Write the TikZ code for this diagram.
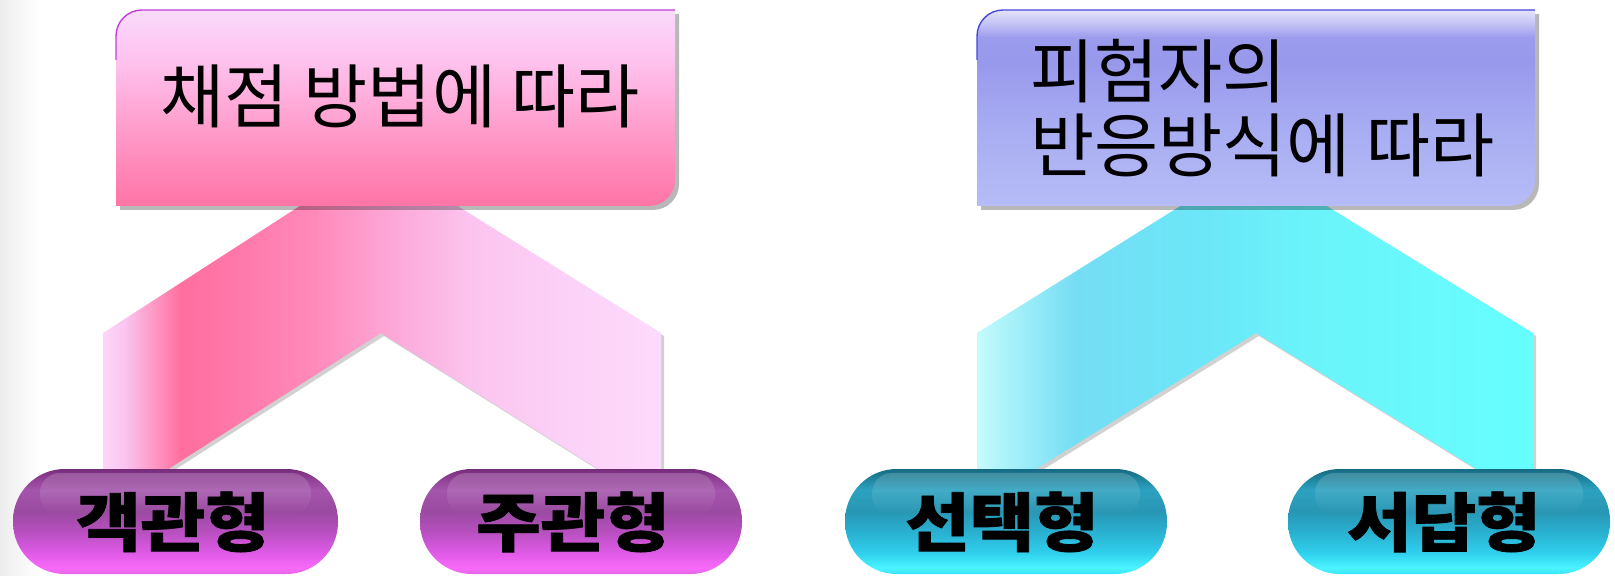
\documentclass[tikz,border=0pt]{standalone}
\usepackage{fontspec}
\newfontfamily\kr{Noto Sans CJK KR}
\newfontfamily\krpill{Noto Sans CJK KR}[FakeStretch=1.1, BoldFeatures={FakeStretch=1.1, FakeBold=1.2}]
\usetikzlibrary{fadings}

% box colours
\definecolor{pbA}{HTML}{FF74A6}
\definecolor{pbB}{HTML}{FF88B8}
\definecolor{pbC}{HTML}{FFA8D6}
\definecolor{pbD}{HTML}{FEC2EE}
\definecolor{pbE}{HTML}{FCD0F8}
\definecolor{pbF}{HTML}{F8DCFA}
\definecolor{bbA}{HTML}{B6BCF6}
\definecolor{bbB}{HTML}{A8ACF2}
\definecolor{bbC}{HTML}{9898EC}
\definecolor{bbD}{HTML}{9C9CEE}
\definecolor{bbE}{HTML}{C8C8F6}
\definecolor{bbF}{HTML}{E2E2FA}
% chevron colours
\definecolor{pcA}{HTML}{FCD6FA}
\definecolor{pcB}{HTML}{FBC4EE}
\definecolor{pcC}{HTML}{FF6E9E}
\definecolor{pcD}{HTML}{FF78AA}
\definecolor{pcE}{HTML}{FF8ABA}
\definecolor{pcF}{HTML}{FCA8D8}
\definecolor{pcG}{HTML}{FBC4EE}
\definecolor{pcH}{HTML}{FCD2F8}
\definecolor{pcI}{HTML}{FDDAFC}
\definecolor{ccA}{HTML}{C8FCFC}
\definecolor{ccB}{HTML}{B0F4FA}
\definecolor{ccC}{HTML}{74DDF4}
\definecolor{ccD}{HTML}{6CE6F8}
\definecolor{ccE}{HTML}{6AF4FA}
\definecolor{ccF}{HTML}{66FEFF}
% pill colours
\definecolor{ppA}{HTML}{E466E8}
\definecolor{ppB}{HTML}{F86AF8}
\definecolor{ppC}{HTML}{E05AE8}
\definecolor{ppD}{HTML}{B850C0}
\definecolor{ppE}{HTML}{9A4AA0}
\definecolor{ppF}{HTML}{A456AC}
\definecolor{ppG}{HTML}{8A3A8E}
\definecolor{ppH}{HTML}{742C7A}
\definecolor{tpA}{HTML}{3AE4F8}
\definecolor{tpB}{HTML}{4AF4FF}
\definecolor{tpC}{HTML}{30D0EE}
\definecolor{tpD}{HTML}{2AB0D0}
\definecolor{tpE}{HTML}{2896B4}
\definecolor{tpF}{HTML}{2CA2C0}
\definecolor{tpG}{HTML}{1C7C94}
\definecolor{tpH}{HTML}{166A82}
\definecolor{pinkedge}{HTML}{C040D8}
\definecolor{blueedge}{HTML}{4848D8}

\pgfdeclareverticalshading{pinkbox}{100bp}{color(0bp)=(pbA); color(25bp)=(pbA); color(35bp)=(pbB); color(50bp)=(pbC); color(62bp)=(pbD); color(70bp)=(pbE); color(75bp)=(pbF); color(100bp)=(pbF)}
\pgfdeclareverticalshading{bluebox}{100bp}{color(0bp)=(bbA); color(25bp)=(bbA); color(45bp)=(bbB); color(62bp)=(bbC); color(68bp)=(bbD); color(72bp)=(bbE); color(75bp)=(bbF); color(100bp)=(bbF)}
\pgfdeclarehorizontalshading{pinkchev}{100bp}{color(0bp)=(pcA); color(25bp)=(pcA); color(27bp)=(pcB); color(32bp)=(pcC); color(37bp)=(pcD); color(44bp)=(pcE); color(51bp)=(pcF); color(58bp)=(pcG); color(67bp)=(pcH); color(75bp)=(pcI); color(100bp)=(pcI)}
\pgfdeclarehorizontalshading{cyanchev}{100bp}{color(0bp)=(ccA); color(25bp)=(ccA); color(27bp)=(ccB); color(34bp)=(ccC); color(45bp)=(ccD); color(55bp)=(ccE); color(75bp)=(ccF); color(100bp)=(ccF)}
\pgfdeclareverticalshading{purplepill}{100bp}{color(0bp)=(ppA); color(25bp)=(ppA); color(28bp)=(ppB); color(35bp)=(ppC); color(45bp)=(ppD); color(55bp)=(ppE); color(65bp)=(ppF); color(72bp)=(ppG); color(75bp)=(ppH); color(100bp)=(ppH)}
\pgfdeclareverticalshading{tealpill}{100bp}{color(0bp)=(tpA); color(25bp)=(tpA); color(28bp)=(tpB); color(35bp)=(tpC); color(45bp)=(tpD); color(55bp)=(tpE); color(65bp)=(tpF); color(72bp)=(tpG); color(75bp)=(tpH); color(100bp)=(tpH)}

\tikzfading[name=glossfade, top color=transparent!70, middle color=transparent!35, bottom color=transparent!100]

\tikzset{
  boxtxt/.style={inner sep=0pt, text=black, font=\kr\fontsize{70}{80}\selectfont},
  pilltxt/.style={inner sep=0pt, text=black, font=\krpill\bfseries\fontsize{64}{70}\selectfont},
  shadowfill/.style={fill=black, opacity=0.28},
  chevshadow/.style={fill=black, opacity=0.18},
  gloss/.style={fill=white, path fading=glossfade, opacity=0.6},
}

\begin{document}
\begin{tikzpicture}[x=1bp,y=-1bp]
\useasboundingbox (0,0) rectangle (1615,576);
\fill[white] (0,0) rectangle (1615,576);
\shade[left color=black!7, right color=white] (0,0) rectangle (40,576);

% ---- chevrons ----
\fill[chevshadow] (311,203) -- (450,203) -- (664,336) -- (664,503) -- (651,503) -- (384,336) -- (123,503) -- (106,503) -- (106,336) -- cycle;
\shade[shading=pinkchev] (309,200) -- (448,200) -- (661,333) -- (661,500) -- (648,500) -- (381,333) -- (120,500) -- (103,500) -- (103,333) -- cycle;

\fill[chevshadow] (1193,203) -- (1320,203) -- (1536,336) -- (1536,503) -- (1530,503) -- (1259,336) -- (989,503) -- (980,503) -- (980,336) -- cycle;
\shade[shading=cyanchev] (1190,200) -- (1317,200) -- (1533,333) -- (1533,500) -- (1527,500) -- (1256,333) -- (986,500) -- (977,500) -- (977,333) -- cycle;

% ---- top boxes ----
\fill[shadowfill] (120,210) -- (120,40) arc[start angle=180, end angle=270, radius=26] -- (679,14) -- (679,184) arc[start angle=0, end angle=90, radius=26] -- cycle;
\shade[shading=pinkbox] (116,206) -- (116,36) arc[start angle=180, end angle=270, radius=26] -- (675,10) -- (675,180) arc[start angle=0, end angle=90, radius=26] -- cycle;
\draw[pinkedge, line width=1.4] (116,60) -- (116,36) arc[start angle=180, end angle=270, radius=26] -- (675,10);

\fill[shadowfill] (981,210) -- (981,40) arc[start angle=180, end angle=270, radius=26] -- (1539,14) -- (1539,184) arc[start angle=0, end angle=90, radius=26] -- cycle;
\shade[shading=bluebox] (977,206) -- (977,36) arc[start angle=180, end angle=270, radius=26] -- (1535,10) -- (1535,180) arc[start angle=0, end angle=90, radius=26] -- cycle;
\draw[blueedge, line width=1.4] (977,60) -- (977,36) arc[start angle=180, end angle=270, radius=26] -- (1535,10);

\node[boxtxt, anchor=base] (t1) at (400,123) {채점\hspace{0.22em}방법에\hspace{0.22em}따라};
\node[boxtxt, anchor=base west] (t2a) at (1030,98) {피험자의};
\node[boxtxt, anchor=base west] (t2b) at (1030,172) {반응방식에\hspace{0.22em}따라};

% ---- pills ----
\shade[shading=purplepill, rounded corners=52] (13,469) rectangle (338,574);
\fill[gloss, rounded corners=20] (40,473) rectangle (311,515);
\shade[shading=purplepill, rounded corners=52] (420,469) rectangle (742,574);
\fill[gloss, rounded corners=20] (447,473) rectangle (715,515);
\shade[shading=tealpill, rounded corners=52] (845,469) rectangle (1167,574);
\fill[gloss, rounded corners=20] (872,473) rectangle (1140,515);
\shade[shading=tealpill, rounded corners=52] (1288,469) rectangle (1610,574);
\fill[gloss, rounded corners=20] (1315,473) rectangle (1583,515);

\node[pilltxt, anchor=base] (p1) at (173,546) {객관형};
\node[pilltxt, anchor=base] (p2) at (573,546) {주관형};
\node[pilltxt, anchor=base] (p3) at (1002,546) {선택형};
\node[pilltxt, anchor=base] (p4) at (1444,546) {서답형};
\end{tikzpicture}
\end{document}
